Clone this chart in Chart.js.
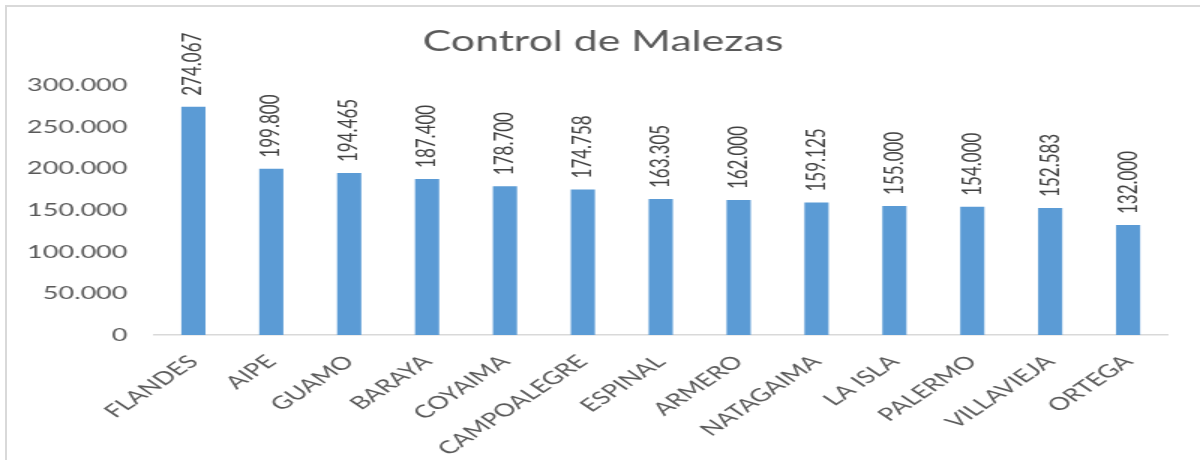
<!DOCTYPE html>
<html>
<head>
<meta charset="utf-8">
<script src="https://cdn.jsdelivr.net/npm/chart.js@4.4.1/dist/chart.umd.min.js"></script>
<style>
body { margin: 0; background: #fff; overflow: hidden; }
#frame { position: absolute; left: 5px; top: 5px; width: 1200px; height: 460px;
  border-top: 2px solid #d9d9d9; border-left: 2px solid #d9d9d9; }
#wrap { position: absolute; left: 0; top: 0; width: 804px; height: 460px;
  transform: scaleX(1.5); transform-origin: 0 0; }
</style>
</head>
<body>
<div id="frame"></div>
<div id="wrap"><canvas id="malezasChart" width="804" height="460"></canvas></div>
<script>
const municipios = ['FLANDES', 'AIPE', 'GUAMO', 'BARAYA', 'COYAIMA', 'CAMPOALEGRE', 'ESPINAL',
  'ARMERO', 'NATAGAIMA', 'LA ISLA', 'PALERMO', 'VILLAVIEJA', 'ORTEGA'];
const valores = [274067, 199800, 194465, 187400, 178700, 174758, 163305,
  162000, 159125, 155000, 154000, 152583, 132000];
const yMax = 300000;
const yStep = 50000;

// miles con punto, como en Excel en español
function fmt(v) {
  return String(v).replace(/\B(?=(\d{3})+(?!\d))/g, '.');
}

// etiquetas de valor giradas encima de cada barra
const valueLabels = {
  id: 'valueLabels',
  afterDatasetsDraw(chart) {
    const ctx = chart.ctx;
    const meta = chart.getDatasetMeta(0);
    ctx.save();
    ctx.fillStyle = '#404040';
    ctx.font = '17px Lato';
    ctx.textAlign = 'left';
    ctx.textBaseline = 'middle';
    meta.data.forEach((bar, i) => {
      ctx.save();
      ctx.translate(bar.x, bar.y - 11);
      ctx.rotate(-Math.PI / 2);
      ctx.fillText(fmt(valores[i]), 0, 0);
      ctx.restore();
    });
    ctx.restore();
  }
};

Chart.defaults.font.family = 'Lato';
Chart.defaults.color = '#595959';

const ctx = document.getElementById('malezasChart').getContext('2d');
const chart = new Chart(ctx, {
  type: 'bar',
  data: {
    labels: municipios,
    datasets: [{
      data: valores,
      yAxisID: 'y',
      backgroundColor: '#5b9bd5',
      borderWidth: 0,
      categoryPercentage: 1,
      barPercentage: 0.31
    }]
  },
  options: {
    responsive: false,
    animation: false,
    layout: { padding: 0 },
    plugins: {
      legend: { display: false },
      tooltip: { enabled: false },
      title: {
        display: true,
        text: 'Control de Malezas',
        color: '#595959',
        font: { size: 28.5, weight: 'normal' },
        padding: { top: 25, bottom: 26 }
      }
    },
    scales: {
      x: {
        grid: { display: false, drawTicks: false },
        border: { display: true, color: '#d9d9d9', width: 1.5 },
        ticks: { minRotation: 45, maxRotation: 45, padding: 16, font: { size: 18 }, color: '#595959', autoSkip: false },
        afterFit(scale) { scale.height = 125; }
      },
      y: {
        position: 'left',
        min: 0,
        max: yMax,
        grid: { display: false, drawTicks: false },
        border: { display: false },
        ticks: { stepSize: yStep, padding: 18, font: { size: 18 }, color: '#595959', callback: v => fmt(v) },
        afterFit(scale) { scale.width = 103; }
      },
      // margen derecho vacío
      yDer: {
        position: 'right',
        grid: { display: false, drawTicks: false },
        border: { display: false },
        ticks: { display: false },
        afterFit(scale) { scale.width = 26; }
      }
    }
  },
  plugins: [valueLabels]
});
</script>
</body>
</html>
